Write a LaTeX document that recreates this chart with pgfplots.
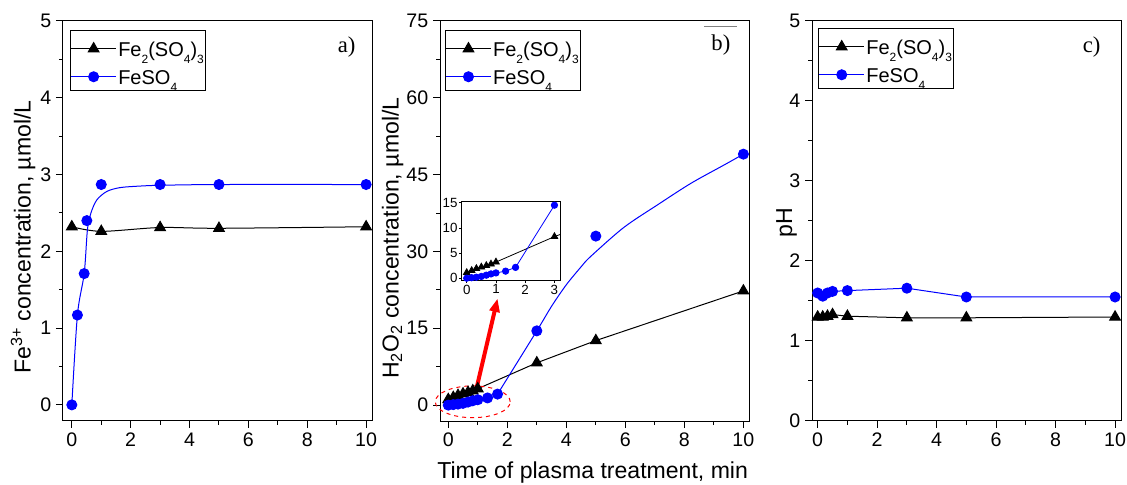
\documentclass[border=0pt]{standalone}
\usepackage{fontspec}
\setmainfont{Liberation Sans}
\newfontfamily\timesf{Liberation Serif}
\usepackage{pgfplots}
\pgfplotsset{compat=1.18}
\usetikzlibrary{arrows.meta}

\pgfplotsset{
 panel/.style={
  scale only axis, width=231.75pt, height=300pt, anchor=south west,
  axis line style={line width=0.75pt},
  tick align=outside, tick pos=left,
  major tick length=5.25pt, minor tick length=3pt,
  every tick/.style={black, line width=0.75pt},
  xmin=-0.3, xmax=10.2, xtick={0,2,...,10}, minor x tick num=1,
  tick label style={font=\fontsize{14.7}{16}\selectfont},
  /pgf/number format/assume math mode=true,
  label style={font=\fontsize{17.3}{20}\selectfont},
  legend style={font=\fontsize{15}{16}\selectfont, draw=black, line width=0.75pt,
     anchor=north west, inner xsep=0pt, inner ysep=0.5pt, row sep=-2.5pt,
     nodes={inner xsep=1.2pt, inner ysep=0pt, text height=19pt, text depth=4.5pt}},
  legend cell align=left,
  legend image code/.code={\draw[mark repeat=2,mark phase=2,##1] plot coordinates {(0cm,-1.6pt) (16.9pt,-1.6pt) (33.8pt,-1.6pt)};},
 },
 fe3/.style={black, line width=0.75pt, mark=triangle*, mark size=4.6pt, mark options={solid, fill=black}},
 fe2/.style={blue, line width=0.75pt, mark=*, mark size=3.75pt, mark options={solid, fill=blue}},
}
\tikzset{plabel/.style={font=\timesf\fontsize{17}{20}\selectfont}}
\newcommand{\sbs}[1]{\raisebox{-5.3pt}{\fontsize{9}{9}\selectfont #1}}
\newcommand{\FeIII}{Fe\sbs{2}(SO\sbs{4})\sbs{3}}
\newcommand{\FeII}{FeSO\sbs{4}}

\begin{document}
\begin{tikzpicture}
\useasboundingbox (0,0) rectangle (845.25pt,363.75pt);

% ---------------- panel a
\begin{axis}[panel, at={(47.25pt,48pt)},
  ymin=-0.21, ymax=5, ytick={0,1,2,3,4,5}, minor y tick num=1,
  ylabel={Fe\textsuperscript{3+} concentration, \textmu mol/L},
  ylabel style={at={(axis description cs:-0.129,0.46)}, anchor=center},
  legend style={at={(0.023,0.978)}}]
\addplot[fe3, smooth] coordinates {(0,2.32) (1,2.26) (3,2.31) (5,2.30) (10,2.32)};
\addlegendentry{\FeIII}
\addplot[blue, line width=0.75pt, smooth, forget plot] coordinates {(0,0) (0.19,1.17) (0.42,1.71) (0.53,2.28) (0.65,2.50) (0.85,2.67) (1.19,2.78) (1.64,2.83) (2.32,2.85) (3,2.86) (5,2.87) (10,2.87)};
\addplot[fe2, only marks, forget plot] coordinates {(0,0) (0.19,1.17) (0.42,1.71) (0.51,2.40) (1,2.87) (3,2.87) (5,2.87) (10,2.87)};
\addlegendimage{fe2}
\addlegendentry{\FeII}
\node[plabel] at (axis description cs:0.918,0.936) {a)};
\end{axis}

% ---------------- panel b
\begin{axis}[panel, at={(330pt,48pt)}, clip=false,
  xmin=-0.28, xmax=10.19,
  ymin=-3.1, ymax=75, ytick={0,15,...,75}, minor y tick num=1,
  ylabel={H\textsubscript{2}O\textsubscript{2} concentration, \textmu mol/L},
  ylabel style={at={(axis description cs:-0.153,0.457)}, anchor=center},
  xlabel={Time of plasma treatment, min},
  xlabel style={at={(axis description cs:0.494,-0.13)}, anchor=center},
  legend style={at={(0.016,0.978)}}]
\addplot[fe3] coordinates {(0,1.1) (0.17,1.5) (0.33,1.9) (0.5,2.2) (0.67,2.5) (0.83,2.8) (1,3.2) (3,8.26) (5,12.6) (10,22.3)};
\addlegendentry{\FeIII}
\addplot[blue, line width=0.75pt, forget plot] coordinates {(0,0) (0.17,0.1) (0.33,0.2) (0.5,0.35) (0.67,0.6) (0.83,0.85) (1,1.05) (1.33,1.4) (1.67,2.15)};
\addplot[blue, line width=0.75pt, smooth, forget plot] coordinates {(1.67,2.15) (3,14.5) (3.5,19.3) (4,23.5) (4.5,27) (4.82,29) (5.95,34.7) (7.09,39.1) (8.22,43.3) (9.35,46.9) (10,49)};
\addplot[fe2, only marks, forget plot] coordinates {(0,0) (0.17,0.1) (0.33,0.2) (0.5,0.35) (0.67,0.6) (0.83,0.85) (1,1.05) (1.33,1.4) (1.67,2.15) (3,14.5) (5,33) (10,49)};
\addlegendimage{fe2}
\addlegendentry{\FeII}
\node[plabel] at (axis description cs:0.909,0.94) {b)};
\draw[red, line width=3pt, -{Triangle[length=10pt,width=7.5pt]}] (axis cs:0.97,3.6) -- (axis cs:1.67,20.8);
\draw[red, dashed, line width=0.75pt] (axis cs:0.83,0.65) ellipse [x radius=28.1pt, y radius=11.9pt];
\draw[gray, line width=0.6pt] (axis cs:8.67,73.9) -- (axis cs:9.8,73.9);
\end{axis}

% ---------------- inset
\begin{axis}[scale only axis, width=73.7pt, height=59.1pt, anchor=south west,
  at={(346.3pt,153.4pt)},
  axis background/.style={fill=white},
  axis line style={line width=0.6pt},
  tick align=outside, tick pos=left, major tick length=2pt,
  every tick/.style={black, line width=0.5pt},
  xmin=-0.17, xmax=3.19, ymin=-0.45, ymax=15.2,
  xtick={0,1,2,3}, ytick={0,5,10,15},
  tick label style={font=\fontsize{10}{11}\selectfont, inner sep=1pt},
  /pgf/number format/assume math mode=true]
\addplot[black, line width=0.6pt, mark=triangle*, mark size=2.9pt] coordinates {(0,1.1) (0.17,1.5) (0.33,1.9) (0.5,2.2) (0.67,2.5) (0.83,2.8) (1,3.2) (3,8.26) (5,12.6)};
\addplot[blue, line width=0.6pt, mark=*, mark size=2.4pt, mark options={fill=blue}] coordinates {(0,0) (0.17,0.1) (0.33,0.2) (0.5,0.35) (0.67,0.6) (0.83,0.85) (1,1.05) (1.33,1.4) (1.67,2.15) (3,14.5)};
\end{axis}

% ---------------- panel c
\begin{axis}[panel, at={(609pt,48pt)},
  xmin=-0.19, xmax=10.2,
  ymin=0, ymax=5, ytick={0,1,2,3,4,5}, minor y tick num=1,
  ylabel={pH},
  ylabel style={at={(axis description cs:-0.082,0.495)}, anchor=center},
  legend style={at={(0.02,0.983)}}]
\addplot[fe3] coordinates {(0,1.30) (0.17,1.30) (0.33,1.31) (0.5,1.33) (1,1.31) (3,1.29) (5,1.29) (10,1.30)};
\addlegendentry{\FeIII}
\addplot[fe2] coordinates {(0,1.60) (0.17,1.56) (0.33,1.60) (0.5,1.62) (1,1.63) (3,1.66) (5,1.55) (10,1.55)};
\addlegendentry{\FeII}
\node[plabel] at (axis description cs:0.905,0.936) {c)};
\end{axis}
\end{tikzpicture}
\end{document}
